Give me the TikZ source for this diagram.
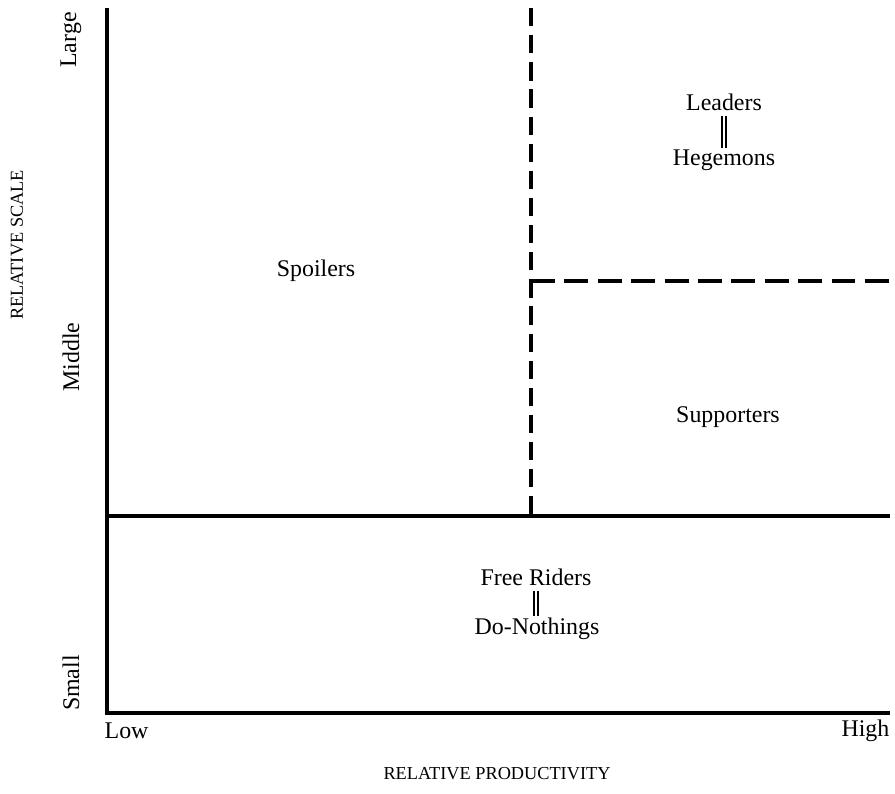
\documentclass[tikz,border=0pt]{standalone}
\usepackage{fontspec}
\setmainfont{Liberation Serif}
\begin{document}
\begin{tikzpicture}%
	[x={(0.025cm, 0cm)},
	y={(0cm, -0.025cm)},
	axis/.style={line width=2.6pt},
	split/.style={line width=2.4pt},
	region/.style={font=\fontsize{17}{20}\selectfont, inner sep=1pt},
	tick/.style={font=\fontsize{17}{20}\selectfont, inner sep=1pt},
	title/.style={font=\fontsize{13}{16}\selectfont, inner sep=1pt},
	equals/.style={double, double distance=2pt, line width=0.8pt}]
%
%% Page frame
\useasboundingbox (0,0) rectangle (895,794);
%%
%% Corners of the chart
%%
\coordinate (top) at (107,8);
\coordinate (origin) at (107,713);
\coordinate (end) at (890,713);
\coordinate (midleft) at (107,516);
\coordinate (midright) at (890,516);
\coordinate (dashtop) at (531,8);
\coordinate (dashfoot) at (531,516);
\coordinate (splitleft) at (531,281);
\coordinate (splitright) at (890,281);
%%
%% Axes and the solid divider
%%
\draw[axis] (top) -- (origin) -- (end);
\draw[axis] (midleft) -- (midright);
%%
%% Dashed dividers
%%
\draw[split, dash pattern=on 13pt off 6.29pt] (dashtop) -- (dashfoot);
\draw[split, dash pattern=on 17pt off 6.75pt] (splitleft) -- (splitright);
%%
%% Scale ticks
%%
\node[tick, rotate=90] (large) at (71,40) {Large};
\node[tick, rotate=90] (middle) at (71,357) {Middle};
\node[tick, rotate=90] (small) at (71,683) {Small};
\node[tick, anchor=west] (low) at (103,731) {Low};
\node[tick, anchor=east] (high) at (891,731) {High};
%%
%% Axis titles
%%
\node[title, rotate=90] (scale) at (17,245) {RELATIVE SCALE};
\node[title] (productivity) at (497,774) {RELATIVE PRODUCTIVITY};
%%
%% Regions
%%
\node[region] (spoilers) at (316,271) {Spoilers};
\node[region] (leaders) at (724,102) {Leaders};
\node[region] (hegemons) at (724,160) {Hegemons};
\node[region] (supporters) at (728,417) {Supporters};
\node[region] (riders) at (536,577) {Free Riders};
\node[region] (nothings) at (537,629) {Do-Nothings};
%%
%% Double bars between the paired names
%%
\draw[equals] (leaders.south) ++(0,4) coordinate (lbar) -- (lbar |- hegemons.north);
\draw[equals] (riders.south) ++(0,4) coordinate (rbar) -- (rbar |- nothings.north);
%%
\end{tikzpicture}
\end{document}
